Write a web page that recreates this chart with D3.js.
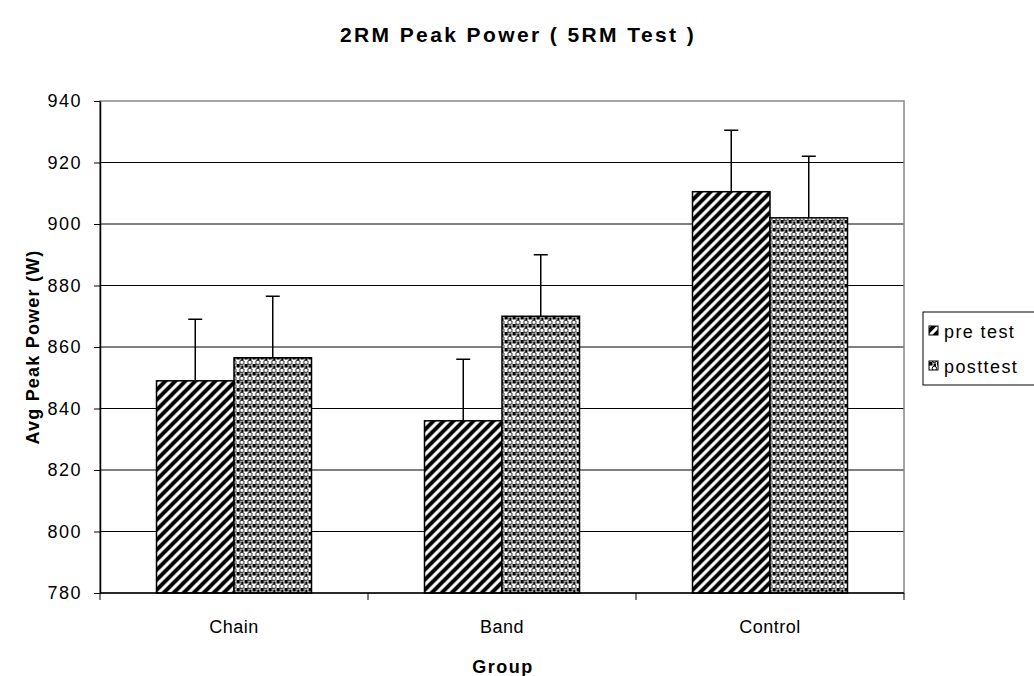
<!DOCTYPE html>
<html><head><meta charset="utf-8">
<script src="https://cdn.jsdelivr.net/npm/d3@7"></script>
<style>body{margin:0;background:#fff;} text{font-family:"Liberation Sans",Arial,sans-serif;}</style>
</head><body>
<svg id="c" width="1034" height="676"></svg>
<script>
const categories = ["Chain", "Band", "Control"];
const seriesNames = ["pre test", "posttest"];
const preValues = [849, 836, 910.5];
const postValues = [856.5, 870, 902];
const preErrors = [20, 20, 20];
const postErrors = [20, 20, 20];
const yTicks = [780, 800, 820, 840, 860, 880, 900, 920, 940];

const svg = d3.select("#c");
const L = 100, R = 904, T = 101, B = 593;

const defs = svg.append("defs");
const p1 = defs.append("pattern").attr("id","diag").attr("patternUnits","userSpaceOnUse").attr("width",10).attr("height",10);
p1.append("rect").attr("width",10).attr("height",10).attr("fill","#fff");
p1.append("path").attr("d","M-3,3 L3,-3 M0,10 L10,0 M7,13 L13,7").attr("stroke","#000").attr("stroke-width",4);
const p2 = defs.append("pattern").attr("id","dots").attr("patternUnits","userSpaceOnUse").attr("width",8).attr("height",8);
p2.append("rect").attr("width",8).attr("height",8).attr("fill","#fff");
p2.append("rect").attr("x",0).attr("y",4).attr("width",3.5).attr("height",3.5).attr("fill","#000");
p2.append("circle").attr("cx",5.4).attr("cy",2.4).attr("r",2.2).attr("fill","#fff").attr("stroke","#000").attr("stroke-width",1);
p2.append("rect").attr("x",4.5).attr("y",5.5).attr("width",2.5).attr("height",2.5).attr("fill","#000");
const fills = ["url(#diag)", "url(#dots)"];

const x0 = d3.scaleBand().domain(categories).range([L, R]).paddingInner(0).paddingOuter(0);
const groupW = 155;
const x1 = d3.scaleBand().domain(seriesNames).range([0, groupW]);
const y = d3.scaleLinear().domain([780, 940]).range([B, T]);

// gridlines
svg.append("g").selectAll("line").data(yTicks.filter(t => t > 780 && t < 940)).join("line")
  .attr("x1", L).attr("x2", R).attr("y1", d => y(d)).attr("y2", d => y(d))
  .attr("stroke", "#000").attr("stroke-width", 1);
// plot border (gray)
svg.append("rect").attr("x", L).attr("y", T).attr("width", R - L).attr("height", B - T)
  .attr("fill", "none").attr("stroke", "#888").attr("stroke-width", 1.5);

// bars
const data = categories.map((c, i) => ({c, vals: [
  {s: seriesNames[0], v: preValues[i], e: preErrors[i], f: fills[0]},
  {s: seriesNames[1], v: postValues[i], e: postErrors[i], f: fills[1]}]}));
const g = svg.append("g").selectAll("g").data(data).join("g")
  .attr("transform", d => `translate(${x0(d.c) + (x0.bandwidth() - groupW) / 2},0)`);
g.selectAll("rect").data(d => d.vals).join("rect")
  .attr("x", d => x1(d.s)).attr("width", x1.bandwidth())
  .attr("y", d => y(d.v)).attr("height", d => B - y(d.v))
  .attr("fill", d => d.f).attr("stroke", "#000").attr("stroke-width", 1.5);
// error bars
g.selectAll("path.err").data(d => d.vals).join("path").attr("class","err")
  .attr("d", d => { const cx = x1(d.s) + x1.bandwidth() / 2; return `M${cx},${y(d.v)}V${y(d.v + d.e)}M${cx - 7},${y(d.v + d.e)}H${cx + 7}`; })
  .attr("stroke", "#000").attr("stroke-width", 1.5).attr("fill", "none");

// axes
const ya = svg.append("g").attr("transform", `translate(${L},0)`)
  .call(d3.axisLeft(y).tickValues(yTicks).tickSize(6).tickPadding(12).tickSizeOuter(0));
ya.select(".domain").attr("stroke", "#000").attr("stroke-width", 1.5);
ya.selectAll(".tick line").attr("stroke", "#000");
ya.selectAll("text").attr("font-size", 18).attr("letter-spacing", 1.5).attr("fill", "#000")
  .style("font-family", "Liberation Sans, Arial, sans-serif");

const xa = svg.append("g").attr("transform", `translate(0,${B})`);
xa.append("line").attr("x1", L).attr("x2", R).attr("stroke", "#000").attr("stroke-width", 1.5);
const bounds = categories.map(c => x0(c)).concat([R]);
xa.selectAll("line.t").data(bounds).join("line").attr("class","t")
  .attr("x1", d => d).attr("x2", d => d).attr("y1", 0).attr("y2", 7).attr("stroke", "#000");
xa.selectAll("text").data(categories).join("text")
  .attr("x", d => x0(d) + x0.bandwidth() / 2).attr("y", 40).attr("text-anchor", "middle")
  .attr("font-size", 18).attr("letter-spacing", 0.5).text(d => d);

// titles
svg.append("text").attr("x", 518).attr("y", 42).attr("text-anchor", "middle")
  .attr("font-size", 21).attr("font-weight", "bold").attr("letter-spacing", 2.4)
  .text("2RM Peak Power ( 5RM Test )");
svg.append("text").attr("x", 503).attr("y", 673).attr("text-anchor", "middle")
  .attr("font-size", 18).attr("font-weight", "bold").attr("letter-spacing", 1.5).text("Group");
svg.append("text").attr("transform", "translate(39,347) rotate(-90)").attr("text-anchor", "middle")
  .attr("font-size", 18).attr("font-weight", "bold").attr("letter-spacing", 1.2).text("Avg Peak Power (W)");

// legend
const lg = svg.append("g");
lg.append("rect").attr("x", 923).attr("y", 312).attr("width", 130).attr("height", 73)
  .attr("fill", "#fff").attr("stroke", "#000").attr("stroke-width", 1);
const li = lg.selectAll("g").data(seriesNames).join("g")
  .attr("transform", (d, i) => `translate(929,${331 + i * 35})`);
li.append("rect").attr("x", 0).attr("y", -5).attr("width", 9).attr("height", 9)
  .attr("fill", (d, i) => i === 0 ? "url(#diag)" : "url(#dots)").attr("stroke", "#000").attr("stroke-width", 1);
li.append("text").attr("x", 15).attr("y", 6.5).attr("font-size", 18).attr("letter-spacing", 1.4).text(d => d);
</script>
</body></html>
